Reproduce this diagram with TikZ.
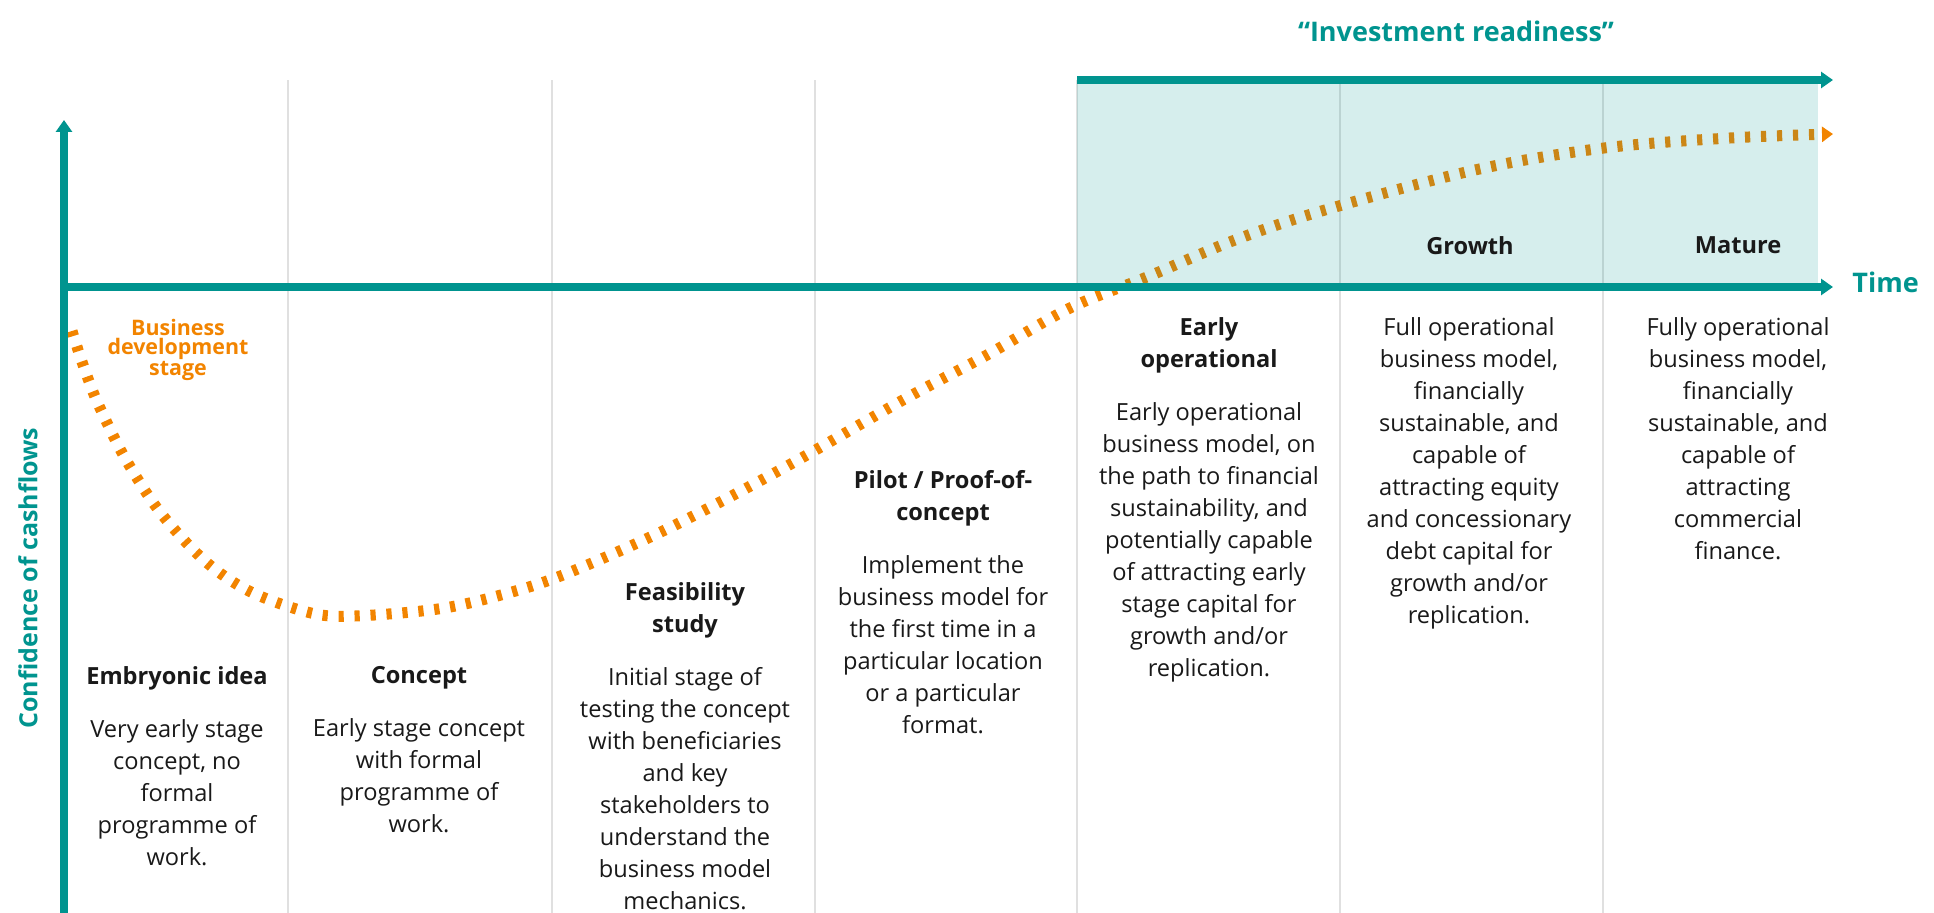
\documentclass[tikz,border=0pt]{standalone}
\usepackage{fontspec}
\setmainfont{Open Sans}
\usepackage{tikz}
\usetikzlibrary{arrows.meta, positioning}
\definecolor{axisteal}{RGB}{0,148,143}
\definecolor{curveorange}{RGB}{242,132,0}
\definecolor{gridgray}{RGB}{224,224,224}
\definecolor{bodytext}{RGB}{25,25,25}
\tikzstyle{axisline} = [line width=4pt, draw=axisteal, -{Triangle[width=8pt,length=6pt]}]
\tikzstyle{gridline} = [line width=1.25pt, draw=gridgray]
\tikzstyle{cashflow} = [line width=5.5pt, draw=curveorange, dash pattern=on 2.6pt off 5.4pt, -{Triangle[width=7.5pt,length=5.5pt]}]
\tikzstyle{stagehead} = [font=\fontsize{11.8}{16}\selectfont\bfseries, text=bodytext, align=center, inner sep=0pt, anchor=north, text depth=0pt]
\tikzstyle{stagetext} = [font=\fontsize{11.8}{16}\selectfont, text=bodytext, align=center, inner sep=0pt, anchor=north]
\tikzstyle{axislabel} = [font=\fontsize{13.5}{16}\selectfont\bfseries, text=axisteal, inner sep=0pt]

\begin{document}
\begin{tikzpicture}[x=0.5pt, y=-0.5pt]
    \useasboundingbox (0,0) rectangle (1934,913);

    \draw[gridline] (288,80) -- (288,913);
    \draw[gridline] (552,80) -- (552,913);
    \draw[gridline] (815,80) -- (815,913);
    \draw[gridline] (1077,80) -- (1077,913);
    \draw[gridline] (1340,80) -- (1340,913);
    \draw[gridline] (1603,80) -- (1603,913);

    \coordinate (origin) at (64,287);
    \coordinate (ytop) at (64,120);
    \coordinate (ybottom) at (64,913);
    \coordinate (xend) at (1833,287);
    \coordinate (irstart) at (1077,80);
    \coordinate (irend) at (1833,80);

    \draw[cashflow] plot[smooth, tension=0.55] coordinates {(72,331) (80,356) (90,384) (100,408) (125,458) (160,512) (205,561) (251,592) (311,613) (355,616) (438,609) (501,595) (563,575) (665,530) (780,470) (903,400) (987,355) (1070,308) (1147,277) (1235,240) (1325,210) (1475,170) (1604,148) (1730,138) (1833,134)};

    \fill[axisteal, fill opacity=0.16] (1077,80) rectangle (1818,283);

    \draw[axisline] (ybottom) -- (ytop);
    \draw[axisline] (origin) -- (xend);
    \draw[axisline] (irstart) -- (irend);

    \node (irlabel) [axislabel] at (1456,31) {“Investment readiness”};
    \node (timelabel) [axislabel, anchor=west] at (1852,282) {Time};
    \node (conflabel) [axislabel, font=\fontsize{12.5}{15}\selectfont\bfseries, rotate=90] at (28,578) {Confidence of cashflows};
    \node (bdslabel) [font=\fontsize{10.7}{9.5}\selectfont\bfseries, text=curveorange, align=center, inner sep=0pt] at (178,350) {Business\\development\\stage};

    \node (embryo) [stagehead] at (177,666) {Embryonic idea};
    \node (concept) [stagehead] at (419,666) {Concept};
    \node (feasib) [stagehead] at (685,582) {Feasibility\\study};
    \node (pilot) [stagehead] at (943,470) {Pilot / Proof-of-\\concept};
    \node (earlyop) [stagehead] at (1209,317) {Early\\operational};
    \node (growth) [stagehead] at (1470,236) {Growth};
    \node (mature) [stagehead] at (1738,236) {Mature};

    \node (embryotext) [stagetext, below=17pt of embryo] {Very early stage\\concept, no\\formal\\programme of\\work.};
    \node (concepttext) [stagetext, below=17pt of concept] {Early stage concept\\with formal\\programme of\\work.};
    \node (feasibtext) [stagetext, below=17pt of feasib] {Initial stage of\\testing the concept\\with beneficiaries\\and key\\stakeholders to\\understand the\\business model\\mechanics.};
    \node (pilottext) [stagetext, below=17pt of pilot] {Implement the\\business model for\\the first time in a\\particular location\\or a particular\\format.};
    \node (earlyoptext) [stagetext, below=17pt of earlyop] {Early operational\\business model, on\\the path to financial\\sustainability, and\\potentially capable\\of attracting early\\stage capital for\\growth and/or\\replication.};
    \node (growthtext) [stagetext] at (1469,317) {Full operational\\business model,\\financially\\sustainable, and\\capable of\\attracting equity\\and concessionary\\debt capital for\\growth and/or\\replication.};
    \node (maturetext) [stagetext] at (1738,317) {Fully operational\\business model,\\financially\\sustainable, and\\capable of\\attracting\\commercial\\finance.};
\end{tikzpicture}
\end{document}
